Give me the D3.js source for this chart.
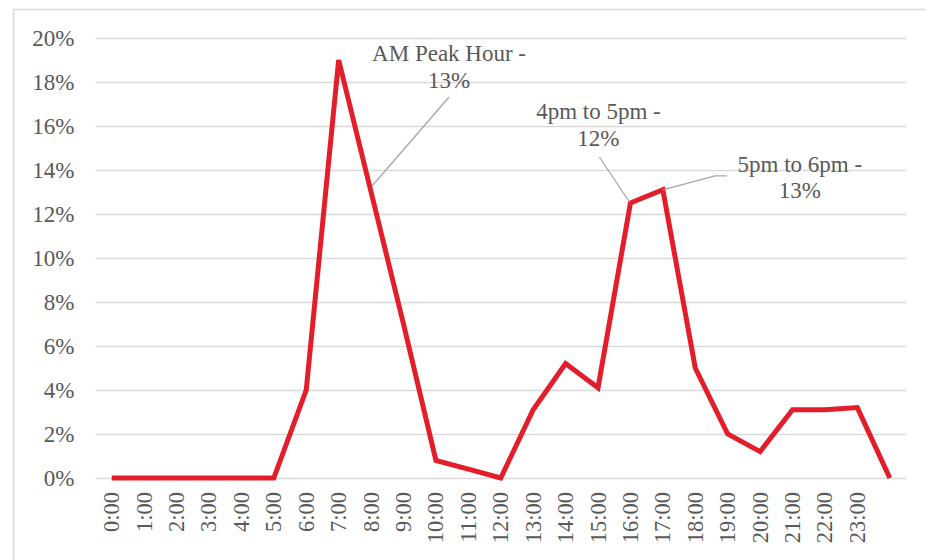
<!DOCTYPE html>
<html>
<head>
<meta charset="utf-8">
<script src="https://cdn.jsdelivr.net/npm/d3@7"></script>
<style>
  body { margin: 0; background: #fff; }
  svg text { fill: #595959; }
</style>
</head>
<body>
<div id="chart"></div>
<script>
// hourly share of trips; last category is the blank end point
let hours = ['0:00', '1:00', '2:00', '3:00', '4:00', '5:00', '6:00', '7:00', '8:00', '9:00',
    '10:00', '11:00', '12:00', '13:00', '14:00', '15:00', '16:00', '17:00', '18:00', '19:00',
    '20:00', '21:00', '22:00', '23:00', ''];
let shares = [0, 0, 0, 0, 0, 0, 0.040, 0.190, 0.130, 0.070,
    0.008, 0.004, 0, 0.031, 0.052, 0.041, 0.125, 0.131, 0.050, 0.020,
    0.012, 0.031, 0.031, 0.032, 0];
let yTicks = [0, 0.02, 0.04, 0.06, 0.08, 0.10, 0.12, 0.14, 0.16, 0.18, 0.20];
let notes = [
    {idx: 8, lines: ['AM Peak Hour -', '13%']},
    {idx: 16, lines: ['4pm to 5pm -', '12%']},
    {idx: 17, lines: ['5pm to 6pm -', '13%']}
];

let serif = 'Tinos, "Liberation Serif", "Noto Serif", "DejaVu Serif", "Times New Roman", Times, serif';

let width = 926, height = 560,
    margin = {top: 38, left: 95.5, bottom: 82, right: 20};

let svg = d3.select('#chart').append('svg')
    .attr('width', width)
    .attr('height', height)
    .style('font-family', serif);

// chart area border (cut off at the right and bottom)
svg.append('path')
    .attr('d', `M13.5,${height + 2}V9.5H${width + 2}`)
    .attr('fill', 'none')
    .attr('stroke', '#d9d9d9')
    .attr('stroke-width', 1.5);

let xScale = d3.scaleBand()
    .domain(hours)
    .range([margin.left, width - margin.right]);

let yScale = d3.scaleLinear()
    .domain([0, 0.2])
    .range([height - margin.bottom, margin.top]);

let xc = i => xScale(hours[i]) + xScale.bandwidth() / 2;

let yAxis = svg.append('g')
    .attr('class', 'y-axis')
    .attr('transform', `translate(${margin.left}, 0)`)
    .call(
        d3.axisLeft(yScale)
            .tickValues(yTicks)
            .tickFormat(d3.format('.0%'))
            .tickSize(-(width - margin.right - margin.left))
            .tickPadding(21)
    );
yAxis.attr('font-family', null);
yAxis.select('.domain').remove();
yAxis.selectAll('line')
    .attr('stroke', '#d9d9d9')
    .attr('stroke-width', 1.5);
yAxis.selectAll('text')
    .attr('font-size', 23)
    .attr('fill', '#595959');

let xAxis = svg.append('g')
    .attr('class', 'x-axis')
    .attr('transform', `translate(0, ${height - margin.bottom})`)
    .call(d3.axisBottom(xScale).tickSize(0).tickPadding(0));
xAxis.attr('font-family', null);
xAxis.select('.domain').remove();
xAxis.selectAll('text')
    .attr('font-size', 22.5)
    .attr('fill', '#595959')
    .attr('text-anchor', 'end')
    .attr('dy', null)
    .attr('y', 0)
    .attr('dominant-baseline', 'central')
    .attr('transform', 'translate(0, 14) rotate(-90)');

let line = d3.line()
    .x((d, i) => xc(i))
    .y(d => yScale(d));

svg.append('path')
    .datum(shares)
    .attr('fill', 'none')
    .attr('stroke', '#e31e2a')
    .attr('stroke-width', 5)
    .attr('stroke-linejoin', 'miter')
    .attr('d', line);

// data labels with leader lines, offsets from their point
let labelPos = [
    {dx: 78, dy: -131, lead: [[78, -95], [1, -6]]},
    {dx: -32, dy: -84, lead: [[-31, -46], [-1, -1]]},
    {dx: 137, dy: -18, lead: [[64, -14], [52, -14], [0, 0]]}
];

notes.forEach((n, k) => {
    let px = xc(n.idx), py = yScale(shares[n.idx]), p = labelPos[k];
    svg.append('path')
        .attr('d', d3.line()(p.lead.map(q => [px + q[0], py + q[1]])))
        .attr('fill', 'none')
        .attr('stroke', '#a6a6a6')
        .attr('stroke-width', 1.3);
    let t = svg.append('text')
        .attr('x', px + p.dx)
        .attr('y', py + p.dy)
        .attr('text-anchor', 'middle')
        .attr('font-size', 23);
    n.lines.forEach((s, j) => {
        t.append('tspan')
            .attr('x', px + p.dx)
            .attr('dy', j === 0 ? 0 : 26.5)
            .text(s);
    });
});
</script>
</body>
</html>
